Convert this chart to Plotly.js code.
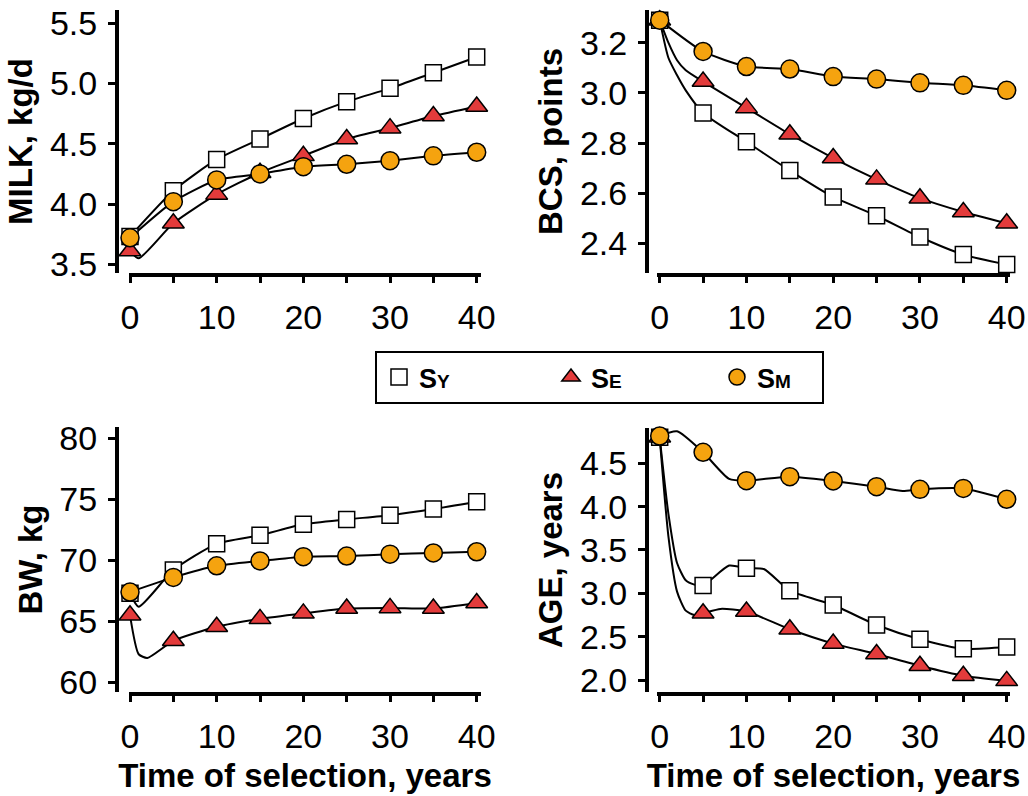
<!DOCTYPE html>
<html>
<head>
<meta charset="utf-8">
<script src="https://cdn.plot.ly/plotly-3.0.1.min.js"></script>
<style>
html,body{margin:0;padding:0;background:#fff;}
#chart{width:1028px;height:796px;}
</style>
</head>
<body>
<div id="chart"></div>
<script>
// ---------------- data ----------------
const years = [0, 5, 10, 15, 20, 25, 30, 35, 40];
const seriesLabels = ['S<span style="font-size:19px">Y</span>', 'S<span style="font-size:19px">E</span>', 'S<span style="font-size:19px">M</span>'];
const panelTitles = ['MILK, kg/d', 'BCS, points', 'BW, kg', 'AGE, years'];
const xTitle = 'Time of selection, years';
const xTickVals = [0, 10, 20, 30, 40];
const milkTicks = [3.5, 4.0, 4.5, 5.0, 5.5];
const bcsTicks = [2.4, 2.6, 2.8, 3.0, 3.2];
const bwTicks = [60, 65, 70, 75, 80];
const ageTicks = [2.0, 2.5, 3.0, 3.5, 4.0, 4.5];

// marker values every 5 years
const milkSY = [3.73, 4.11, 4.37, 4.54, 4.71, 4.85, 4.96, 5.09, 5.22];
const milkSE = [3.61, 3.84, 4.08, 4.26, 4.40, 4.54, 4.63, 4.73, 4.81];
const milkSM = [3.72, 4.02, 4.20, 4.25, 4.31, 4.33, 4.36, 4.40, 4.43];

const bcsSY = [3.29, 2.92, 2.805, 2.69, 2.585, 2.51, 2.425, 2.355, 2.315];
const bcsSE = [3.29, 3.045, 2.94, 2.835, 2.74, 2.655, 2.58, 2.525, 2.48];
const bcsSM = [3.29, 3.165, 3.105, 3.095, 3.065, 3.055, 3.04, 3.03, 3.01];

const bwSY = [67.3, 69.2, 71.35, 72.05, 72.95, 73.35, 73.7, 74.2, 74.8];
const bwSE = [65.5, 63.4, 64.55, 65.2, 65.65, 66.05, 66.1, 66.05, 66.5];
const bwSM = [67.4, 68.6, 69.55, 69.95, 70.3, 70.35, 70.5, 70.6, 70.7];

const ageSY = [4.80, 3.09, 3.29, 3.03, 2.865, 2.635, 2.47, 2.36, 2.38];
const ageSE = [4.80, 2.77, 2.79, 2.585, 2.42, 2.30, 2.165, 2.05, 1.99];
const ageSM = [4.815, 4.627, 4.30, 4.346, 4.296, 4.23, 4.20, 4.21, 4.085];

// extra points of the connecting curves (between markers)
const milkSEExtraYears = [1];            const milkSEExtraVals = [3.55];
const bcsSYExtraYears = [1, 2, 3];      const bcsSYExtraVals = [3.14, 3.07, 3.01];
const bcsSEExtraYears = [1, 2, 3];      const bcsSEExtraVals = [3.20, 3.13, 3.09];
const bwSYExtraYears = [1];             const bwSYExtraVals = [66.2];
const bwSEExtraYears = [1, 2];          const bwSEExtraVals = [62.3, 62.0];
const ageSYExtraYears = [1, 2, 3, 4, 8, 12]; const ageSYExtraVals = [3.92, 3.35, 3.15, 3.10, 3.32, 3.28];
const ageSEExtraYears = [1, 2, 3, 4, 7];     const ageSEExtraVals = [3.66, 3.02, 2.80, 2.75, 2.82];
const ageSMExtraYears = [2, 8, 28];          const ageSMExtraVals = [4.87, 4.32, 4.18];

// ---------------- styling / layout ----------------
const W = 1028, H = 796;
const FONT = 'Liberation Sans, Arial, Helvetica, sans-serif';
const styles = [
  {symbol: 'square', size: 16, color: '#ffffff', legendwidth: 123},
  {symbol: 'triangle-up', size: 19, color: '#e33b3b', legendwidth: 117},
  {symbol: 'circle', size: 18, color: '#f5a30f', legendwidth: 60}
];

function merge(xs, ys, ex, ey) {
  const pts = xs.map((x, i) => [x, ys[i]]);
  (ex || []).forEach((x, i) => pts.push([x, ey[i]]));
  pts.sort((a, b) => a[0] - b[0]);
  return {x: pts.map(p => p[0]), y: pts.map(p => p[1])};
}
// axis range so that known value/pixel pairs land where they are in the reference
function rangeFrom(d0, d1, p0, v0, p1, v1) {
  const k = (v1 - v0) / (p1 - p0);
  return [v0 + (d0 - p0) * k, v0 + (d1 - p0) * k];
}

const panels = [
  {series: [[milkSY, [], []], [milkSE, milkSEExtraYears, milkSEExtraVals], [milkSM, [], []]],
   ticks: milkTicks, fmt: '.1f', title: panelTitles[0], xt: false,
   xd: [129, 481], xm: [130, 0, 476.7, 40], yd: [10, 273], ym: [23.3, 5.5, 264.3, 3.5], yl: 117},
  {series: [[bcsSY, bcsSYExtraYears, bcsSYExtraVals], [bcsSE, bcsSEExtraYears, bcsSEExtraVals], [bcsSM, [], []]],
   ticks: bcsTicks, fmt: '.1f', title: panelTitles[1], xt: false,
   xd: [657, 1010], xm: [659.7, 0, 1006.7, 40], yd: [10, 273], ym: [42.7, 3.2, 243.3, 2.4], yl: 647},
  {series: [[bwSY, bwSYExtraYears, bwSYExtraVals], [bwSE, bwSEExtraYears, bwSEExtraVals], [bwSM, [], []]],
   ticks: bwTicks, fmt: 'd', title: panelTitles[2], xt: true,
   xd: [129, 481], xm: [130, 0, 476.7, 40], yd: [427, 692], ym: [438.3, 80, 682.3, 60], yl: 117},
  {series: [[ageSY, ageSYExtraYears, ageSYExtraVals], [ageSE, ageSEExtraYears, ageSEExtraVals], [ageSM, ageSMExtraYears, ageSMExtraVals]],
   ticks: ageTicks, fmt: '.1f', title: panelTitles[3], xt: true,
   xd: [657, 1010], xm: [659.7, 0, 1006.7, 40], yd: [428, 692], ym: [463.3, 4.5, 680, 2.0], yl: 647}
];

const lineTraces = [], markerTraces = [];
const layout = {
  width: W, height: H,
  margin: {l: 0, r: 0, t: 0, b: 0},
  paper_bgcolor: '#fff', plot_bgcolor: 'rgba(0,0,0,0)',
  font: {family: FONT, color: '#000', size: 32},
  showlegend: true,
  legend: {
    orientation: 'h', x: 375 / W, xanchor: 'left', y: 1 - 351 / H, yanchor: 'top',
    bordercolor: '#000', borderwidth: 2, bgcolor: '#fff', indentation: 4,
    font: {family: FONT, size: 27, color: '#000', weight: 'bold'},
    itemclick: false, itemdoubleclick: false
  }
};

panels.forEach((p, i) => {
  const n = i === 0 ? '' : String(i + 1);
  const xa = 'x' + n, ya = 'y' + n;
  p.series.forEach((s, j) => {
    const ld = merge(years, s[0], s[1], s[2]);
    lineTraces.push({
      x: ld.x, y: ld.y, mode: 'lines', xaxis: xa, yaxis: ya,
      line: {color: '#000', width: 2, shape: 'spline', smoothing: 0.6},
      showlegend: false, hoverinfo: 'skip'
    });
    markerTraces.push({
      x: years, y: s[0], mode: 'markers', xaxis: xa, yaxis: ya,
      name: seriesLabels[j], legendgroup: 'g' + j, showlegend: i === 0,
      legendwidth: styles[j].legendwidth,
      marker: {symbol: styles[j].symbol, size: styles[j].size, color: styles[j].color,
               line: {color: '#000', width: 1.5}},
      cliponaxis: false
    });
  });
  layout['xaxis' + n] = {
    domain: [p.xd[0] / W, p.xd[1] / W],
    range: rangeFrom(p.xd[0], p.xd[1], p.xm[0], p.xm[1], p.xm[2], p.xm[3]),
    anchor: ya, showgrid: false, zeroline: false,
    showline: true, linecolor: '#000', linewidth: 4,
    tickmode: 'array', tickvals: years, ticktext: years.map(v => xTickVals.includes(v) ? String(v) : ''),
    ticks: 'outside', ticklen: 6, tickwidth: 3, tickcolor: '#000',
    tickfont: {family: FONT, size: 34, color: '#000'}, ticklabelstandoff: 5,
    title: p.xt ? {text: xTitle, font: {family: FONT, size: 33, color: '#000', weight: 'bold'}, standoff: 11} : {text: ''},
    fixedrange: true
  };
  layout['yaxis' + n] = {
    domain: [1 - p.yd[1] / H, 1 - p.yd[0] / H],
    range: rangeFrom(p.yd[1], p.yd[0], p.ym[0], p.ym[1], p.ym[2], p.ym[3]),
    anchor: 'free', position: p.yl / W, showgrid: false, zeroline: false,
    showline: true, linecolor: '#000', linewidth: 4,
    tickmode: 'array', tickvals: p.ticks, tickformat: p.fmt,
    ticks: 'outside', ticklen: 7, tickwidth: 3, tickcolor: '#000',
    tickfont: {family: FONT, size: 34, color: '#000'}, ticklabelstandoff: 4,
    title: {text: p.title, font: {family: FONT, size: 33, color: '#000', weight: 'bold'}, standoff: 6},
    fixedrange: true
  };
});

Plotly.newPlot('chart', lineTraces.concat(markerTraces), layout, {staticPlot: true, displayModeBar: false});
</script>
</body>
</html>
